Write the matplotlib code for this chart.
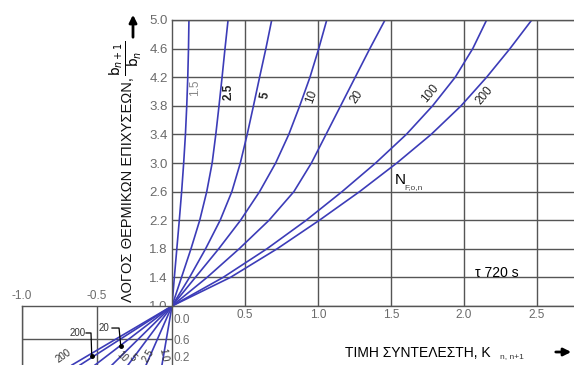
import matplotlib
matplotlib.use('Agg')
import matplotlib.pyplot as plt
from matplotlib.patches import FancyArrowPatch

plt.rcParams['font.family'] = ['Liberation Sans', 'DejaVu Sans']

# ---------------- data ----------------
# upper panel curves (x = K, y = b_{n+1}/b_n) for each N_F,o,n, read at the grid rows
curve_names = ['1.5', '2.5', '5', '10', '20', '100', '200']
y_rows = [1.0, 1.4, 1.8, 2.2, 2.6, 3.0, 3.4, 3.8, 4.2, 4.6, 5.0]
x_15 = [0, 0.016, 0.033, 0.050, 0.066, 0.080, 0.092, 0.101, 0.108, 0.113, 0.116]
x_25 = [0, 0.065, 0.130, 0.190, 0.238, 0.275, 0.300, 0.322, 0.343, 0.363, 0.384]
x_5 = [0, 0.120, 0.230, 0.330, 0.410, 0.468, 0.515, 0.558, 0.600, 0.643, 0.683]
x_10 = [0, 0.160, 0.320, 0.470, 0.600, 0.710, 0.800, 0.875, 0.945, 1.005, 1.060]
x_20 = [0, 0.240, 0.460, 0.665, 0.835, 0.955, 1.055, 1.155, 1.255, 1.355, 1.459]
x_100 = [0, 0.350, 0.650, 0.920, 1.165, 1.395, 1.605, 1.785, 1.940, 2.060, 2.155]
x_200 = [0, 0.400, 0.720, 1.010, 1.285, 1.540, 1.775, 1.980, 2.155, 2.315, 2.464]
upper_x = [x_15, x_25, x_5, x_10, x_20, x_100, x_200]

# lower-left quadrant: straight lines from (0, 1.0) to (end_x, lower_y_end)
lower_names = ['1.5', '2.5', '5', '10', '20', '100', '200']
lower_end_x = [-0.067, -0.173, -0.293, -0.40, -0.513, -0.613, -0.667]
lower_y_start = 1.0
lower_y_end = 0.285

upper_xticks = [0.5, 1.0, 1.5, 2.0, 2.5]
upper_xticklabels = ['0.5', '1.0', '1.5', '2.0', '2.5']
upper_yticks = [1.0, 1.4, 1.8, 2.2, 2.6, 3.0, 3.4, 3.8, 4.2, 4.6, 5.0]
upper_yticklabels = ['1.0', '1.4', '1.8', '2.2', '2.6', '3.0', '3.4', '3.8', '4.2', '4.6', '5.0']
lower_xticks = [-1.0, -0.5]
lower_xticklabels = ['-1.0', '-0.5']
lower_ylabels = ['0.0', '0.6', '0.2']

# ---------------- layout ----------------
W, H = 574, 365
fig = plt.figure(figsize=(W / 100, H / 100), dpi=100)
BLUE = '#3c3cb8'
GRID = '#555555'
TICK = '#6a6a6a'

ax1 = fig.add_axes([172 / W, 1 - 306 / H, (W - 172) / W, 286 / H])
ax1.set_xlim(0, (W - 172) / 146)
ax1.set_ylim(1.0, 5.0)
ax1.set_xticks(upper_xticks)
ax1.set_xticklabels(upper_xticklabels)
ax1.set_yticks(upper_yticks)
ax1.set_yticklabels(upper_yticklabels)
ax1.grid(True, color=GRID, lw=1.0)
ax1.tick_params(length=0, labelsize=8.5, labelcolor=TICK, pad=2)
ax1.tick_params(axis='y', labelsize=9.5, pad=3)
for s in ['left', 'top', 'bottom']:
    ax1.spines[s].set_color(GRID)
    ax1.spines[s].set_linewidth(1.0)
ax1.spines['right'].set_visible(False)
for xs in upper_x:
    ax1.plot(xs, y_rows, color=BLUE, lw=1.2, clip_on=True, solid_joinstyle='round')

# curve labels (positions in data coords)
lab_pos = [(0.158, 4.05, 90), (0.386, 4.00, 90), (0.637, 3.95, 80), (0.957, 3.93, 70),
           (1.265, 3.93, 55), (1.767, 3.975, 50), (2.137, 3.95, 50)]
for name, (lx, ly, rot) in zip(curve_names, lab_pos):
    col = '#888888' if name == '1.5' else '#222222'
    wt = 'bold' if name in ('2.5', '5') else 'normal'
    ax1.text(lx, ly, name, rotation=rot, ha='center', va='center', fontsize=8.5, color=col,
             weight=wt, rotation_mode='anchor')
ax1.text((395 - 172) / 146, 1 + (306 - 180) / 71.5, 'N', fontsize=11, ha='left', va='center')
ax1.text((404 - 172) / 146, 1 + (306 - 184) / 71.5, 'F,o,n', fontsize=6, ha='left', va='top',
         color='#444444')
ax1.text((475 - 172) / 146, 1 + (306 - 273) / 71.5, 'τ 720 s', fontsize=10, ha='left', va='center')

# lower-left quadrant
ax2 = fig.add_axes([22 / W, 0, 150 / W, 59 / H])
ax2.set_xlim(-1.0, 0.0)
ax2.set_ylim(lower_y_end, 1.0)
ax2.xaxis.tick_top()
ax2.set_xticks(lower_xticks)
ax2.set_xticklabels(lower_xticklabels)
ax2.set_yticks([0.6])
ax2.set_yticklabels([])
ax2.grid(True, color=GRID, lw=1.0)
ax2.tick_params(length=0, labelsize=8.5, labelcolor=TICK, pad=3)
ax2.spines['bottom'].set_visible(False)
for s in ['left', 'top', 'right']:
    ax2.spines[s].set_color(GRID)
    ax2.spines[s].set_linewidth(1.0)
for ex in lower_end_x:
    ax2.plot([0, ex], [lower_y_start, lower_y_end], color=BLUE, lw=1.2)
# leader annotations
ax2.plot([-0.573, -0.54, -0.535], [0.673, 0.673, 0.394], color='black', lw=0.9)
ax2.plot([-0.40, -0.353, -0.342], [0.733, 0.733, 0.521], color='black', lw=0.9)
ax2.plot([-0.535, -0.342], [0.394, 0.521], 'o', color='black', ms=2.5, ls='none')
ax2.text(-0.575, 0.673, '200', fontsize=7, ha='right', va='center', color='#333333')
ax2.text(-0.49, 0.733, '20', fontsize=7, ha='left', va='center', color='#333333')
ax2.text(-0.727, 0.40, '200', fontsize=7, rotation=35, ha='center', va='center', color='#333333')
ax2.text(-0.333, 0.39, '10', fontsize=7, rotation=-45, ha='center', va='center', color='#333333')
ax2.text(-0.262, 0.37, '5', fontsize=7, rotation=-45, ha='center', va='center', color='#333333')
ax2.text(-0.16, 0.40, '2.5', fontsize=7, rotation=60, ha='center', va='center', color='#333333')
ax2.text(-0.06, 0.40, '1.0', fontsize=7, rotation=-80, ha='center', va='center', color='#333333')

for lab, py in zip(lower_ylabels, [320, 341, 358]):
    fig.text(174 / W, 1 - py / H, lab, fontsize=8.5, color=TICK, ha='left', va='center')

# axis titles
fig.text(128 / W, 1 - 190 / H, 'ΛΟΓΟΣ ΘΕΡΜΙΚΩΝ ΕΠΙΧΥΣΕΩΝ,', rotation=90, fontsize=10.5,
         ha='center', va='center', color='#111111')
fig.text(126 / W, 1 - 58 / H, r'$\frac{\mathrm{b}_{n+1}}{\mathrm{b}_{n}}$', rotation=90,
         fontsize=14, ha='center', va='center')
fig.add_artist(FancyArrowPatch(
    (133 / W, 1 - 40 / H), (133 / W, 1 - 12 / H), transform=fig.transFigure,
    arrowstyle='-|>', mutation_scale=11, lw=2.0, color='black'))

fig.text(345 / W, 1 - 353 / H, 'ΤΙΜΗ ΣΥΝΤΕΛΕΣΤΗ, Κ', fontsize=10, ha='left', va='center')
fig.text(500 / W, 1 - 357 / H, 'n, n+1', fontsize=6, ha='left', va='center', color='#333333')
fig.add_artist(FancyArrowPatch(
    (553 / W, 1 - 352 / H), (574 / W, 1 - 352 / H), transform=fig.transFigure,
    arrowstyle='-|>', mutation_scale=11, lw=2.0, color='black'))

fig.savefig('out.png', dpi=100)
